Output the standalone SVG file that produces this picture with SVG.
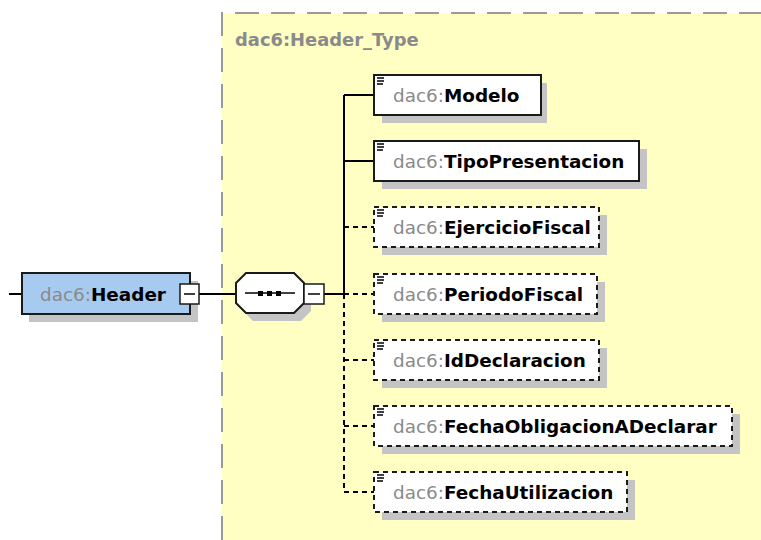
<svg xmlns="http://www.w3.org/2000/svg" width="761" height="540" viewBox="0 0 761 540">
<style>
.t{font-family:"DejaVu Sans","Liberation Sans",sans-serif;font-size:18.4px}
.ns{fill:#8a8a8a}
.nm{fill:#000;font-weight:bold}
.box{fill:#fff;stroke:#1a1a1a;stroke-width:2}
.opt{stroke-dasharray:5,4}
.sh{fill:#c4c4c4}
.ln{stroke:#000;stroke-width:2;fill:none}
.dl{stroke-dasharray:5,4}
.ic{stroke:#000;stroke-width:1.5}
</style>
<rect width="761" height="540" fill="#fff"/>
<g id="complexType">
<rect x="222" y="13" width="545" height="535" fill="#ffffc4"/>
<path d="M222,540 V13 H761" fill="none" stroke="#9a9a9a" stroke-width="2" stroke-dasharray="24,12"/>
<text x="235" y="46" class="t" style="font-size:17.9px;font-weight:bold" fill="#8a8a8a">dac6:Header_Type</text>
</g>
<g id="connectors">
<line x1="9" y1="294" x2="22" y2="294" class="ln"/>
<line x1="199" y1="294" x2="236" y2="294" class="ln"/>
<line x1="324" y1="294" x2="344" y2="294" class="ln"/>
<line x1="344" y1="95" x2="344" y2="294" class="ln"/>
<line x1="344" y1="294" x2="344" y2="492" class="ln dl"/>
<line x1="344" y1="95" x2="374" y2="95" class="ln"/>
<line x1="344" y1="161" x2="374" y2="161" class="ln"/>
<line x1="344" y1="227" x2="374" y2="227" class="ln dl"/>
<line x1="344" y1="294" x2="374" y2="294" class="ln dl"/>
<line x1="344" y1="360" x2="374" y2="360" class="ln dl"/>
<line x1="344" y1="426" x2="374" y2="426" class="ln dl"/>
<line x1="344" y1="492" x2="374" y2="492" class="ln dl"/>
</g>
<g id="Header">
<rect x="29" y="281" width="169" height="41" class="sh"/>
<rect x="22" y="273" width="168" height="41" fill="#a6caf0" stroke="#1a1a1a" stroke-width="2"/>
<text x="40" y="301" class="t"><tspan class="ns">dac6:</tspan><tspan class="nm">Header</tspan></text>
<rect x="180" y="284" width="19" height="20" fill="#fff" stroke="#1a1a1a" stroke-width="1.5"/>
<line x1="184" y1="294" x2="195" y2="294" stroke="#000" stroke-width="1.5"/>
</g>
<g id="sequence">
<polygon points="253,281 301,281 311,291 311,311 301,321 253,321 243,311 243,291" class="sh"/>
<polygon points="246,273 294,273 304,283 304,303 294,313 246,313 236,303 236,283" fill="#fff" stroke="#1a1a1a" stroke-width="2"/>
<line x1="245" y1="293" x2="295" y2="293" stroke="#000" stroke-width="1.5"/>
<rect x="258" y="291" width="5" height="5" fill="#000"/>
<rect x="267" y="291" width="5" height="5" fill="#000"/>
<rect x="276" y="291" width="5" height="5" fill="#000"/>
<rect x="304" y="284" width="20" height="20" fill="#fff" stroke="#1a1a1a" stroke-width="1.5"/>
<line x1="308" y1="294" x2="320" y2="294" stroke="#000" stroke-width="1.5"/>
</g>
<g id="Modelo">
<rect x="382" y="83" width="165" height="40" class="sh"/>
<rect x="374" y="75" width="167" height="40" class="box"/>
<path d="M377,78h7M377,81h7M377,84h6" class="ic"/>
<text x="393" y="102" class="t"><tspan class="ns">dac6:</tspan><tspan class="nm">Modelo</tspan></text>
</g>
<g id="TipoPresentacion">
<rect x="382" y="149" width="265" height="40" class="sh"/>
<rect x="374" y="141" width="265" height="40" class="box"/>
<path d="M377,144h7M377,147h7M377,150h6" class="ic"/>
<text x="393" y="168" class="t"><tspan class="ns">dac6:</tspan><tspan class="nm">TipoPresentacion</tspan></text>
</g>
<g id="EjercicioFiscal">
<rect x="382" y="215" width="225" height="40" class="sh"/>
<rect x="374" y="207" width="225" height="40" class="box opt"/>
<path d="M377,210h7M377,213h7M377,216h6" class="ic"/>
<text x="393" y="234" class="t"><tspan class="ns">dac6:</tspan><tspan class="nm">EjercicioFiscal</tspan></text>
</g>
<g id="PeriodoFiscal">
<rect x="382" y="282" width="223" height="40" class="sh"/>
<rect x="374" y="274" width="223" height="40" class="box opt"/>
<path d="M377,277h7M377,280h7M377,283h6" class="ic"/>
<text x="393" y="301" class="t"><tspan class="ns">dac6:</tspan><tspan class="nm">PeriodoFiscal</tspan></text>
</g>
<g id="IdDeclaracion">
<rect x="382" y="348" width="225" height="40" class="sh"/>
<rect x="374" y="340" width="225" height="40" class="box opt"/>
<path d="M377,343h7M377,346h7M377,349h6" class="ic"/>
<text x="393" y="367" class="t"><tspan class="ns">dac6:</tspan><tspan class="nm">IdDeclaracion</tspan></text>
</g>
<g id="FechaObligacionADeclarar">
<rect x="382" y="414" width="358" height="40" class="sh"/>
<rect x="374" y="406" width="358" height="40" class="box opt"/>
<path d="M377,409h7M377,412h7M377,415h6" class="ic"/>
<text x="393" y="433" class="t"><tspan class="ns">dac6:</tspan><tspan class="nm">FechaObligacionADeclarar</tspan></text>
</g>
<g id="FechaUtilizacion">
<rect x="382" y="480" width="253" height="40" class="sh"/>
<rect x="374" y="472" width="253" height="40" class="box opt"/>
<path d="M377,475h7M377,478h7M377,481h6" class="ic"/>
<text x="393" y="499" class="t"><tspan class="ns">dac6:</tspan><tspan class="nm">FechaUtilizacion</tspan></text>
</g>
</svg>
